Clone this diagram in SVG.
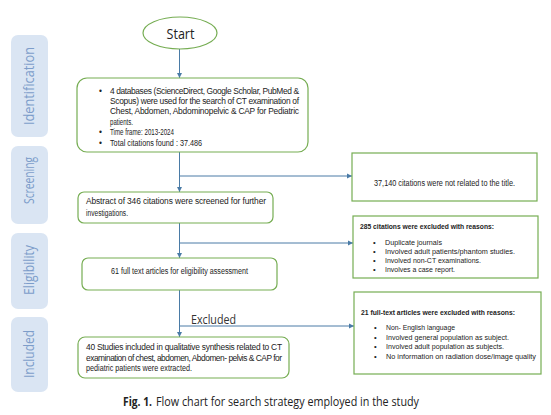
<svg xmlns="http://www.w3.org/2000/svg" width="551" height="415" viewBox="0 0 551 415">
<defs>
<marker id="ah" markerWidth="6" markerHeight="6" refX="5" refY="3" orient="auto" markerUnits="userSpaceOnUse">
<path d="M0,0.5 L5,3 L0,5.5 Z" fill="#4a7ba6"/>
</marker>
<style>
.side{fill:#dae5f3}
.sidet{font-family:"Open Sans","Noto Sans",sans-serif;font-size:14px;fill:#7d9dca}
.box{fill:#fff;stroke:#76ad53;stroke-width:1.2}
.t{font-family:"Liberation Sans","Noto Sans",sans-serif;font-size:8.4px;fill:#222}
.s{font-family:"Liberation Sans","Noto Sans",sans-serif;font-size:7.6px;fill:#222}
.b{font-weight:bold}
.conn line{stroke:#4a7ba6;stroke-width:1}
</style>
</defs>
<rect width="551" height="415" fill="#fff"/>

<g id="side-identification"><rect class="side" x="11" y="35" width="37" height="102" rx="7"/><text class="sidet" transform="translate(34,86) rotate(-90)" text-anchor="middle" textLength="78" lengthAdjust="spacingAndGlyphs">Identification</text></g>
<g id="side-screening"><rect class="side" x="11" y="146" width="37" height="78" rx="7"/><text class="sidet" transform="translate(34,180.5) rotate(-90)" text-anchor="middle" textLength="47" lengthAdjust="spacingAndGlyphs">Screening</text></g>
<g id="side-eligibility"><rect class="side" x="11" y="233" width="37" height="76" rx="7"/><text class="sidet" transform="translate(34,270) rotate(-90)" text-anchor="middle" textLength="50" lengthAdjust="spacingAndGlyphs">Eligibility</text></g>
<g id="side-included"><rect class="side" x="11" y="317" width="37" height="75" rx="7"/><text class="sidet" transform="translate(34,354) rotate(-90)" text-anchor="middle" textLength="48" lengthAdjust="spacingAndGlyphs">Included</text></g>

<g class="conn" id="connectors">
<line x1="179.5" y1="49" x2="179.5" y2="78" marker-end="url(#ah)"/>
<line x1="179.5" y1="152" x2="179.5" y2="192" marker-end="url(#ah)"/>
<line x1="179.5" y1="176" x2="352" y2="176" marker-end="url(#ah)"/>
<line x1="179.5" y1="223" x2="179.5" y2="258" marker-end="url(#ah)"/>
<line x1="179.5" y1="243" x2="353" y2="243" marker-end="url(#ah)"/>
<line x1="179.5" y1="290" x2="179.5" y2="337" marker-end="url(#ah)"/>
<line x1="179.5" y1="326" x2="354" y2="326" marker-end="url(#ah)"/>
</g>

<g id="start"><ellipse cx="180" cy="33" rx="37" ry="16" fill="#fff" stroke="#76ad53" stroke-width="1.2"/><text x="180.5" y="38.5" text-anchor="middle" font-family="Open Sans, Noto Sans, sans-serif" font-size="15" fill="#222" textLength="28" lengthAdjust="spacingAndGlyphs">Start</text></g>

<g id="identification">
<rect class="box" x="77" y="78" width="231" height="74" rx="10"/>
<text class="t" x="99" y="93.5">•</text><text class="t" x="110" y="93.5" textLength="189" lengthAdjust="spacing">4 databases (ScienceDirect, Google Scholar, PubMed &amp;</text>
<text class="t" x="110" y="104" textLength="189" lengthAdjust="spacing">Scopus) were used for the search of CT examination of</text>
<text class="t" x="110" y="114" textLength="189" lengthAdjust="spacing">Chest, Abdomen, Abdominopelvic &amp; CAP for Pediatric</text>
<text class="t" x="110" y="124.5" textLength="23" lengthAdjust="spacingAndGlyphs">patients.</text>
<text class="t" x="99" y="135">•</text><text class="t" x="110" y="135" textLength="64" lengthAdjust="spacingAndGlyphs">Time frame: 2013-2024</text>
<text class="t" x="99" y="145.5">•</text><text class="t" x="110" y="145.5" textLength="92" lengthAdjust="spacingAndGlyphs">Total citations found : 37.486</text>
</g>

<g id="excluded-title">
<rect class="box" x="352" y="153" width="185" height="48"/>
<text class="t" x="374" y="185.5" textLength="141" lengthAdjust="spacingAndGlyphs">37,140 citations were not related to the title.</text>
</g>

<g id="screening">
<rect class="box" x="78" y="192" width="195" height="31" rx="6"/>
<text class="t" x="86" y="204" textLength="180" lengthAdjust="spacing">Abstract of 346 citations were screened for further</text>
<text class="t" x="86" y="215.5" textLength="42" lengthAdjust="spacingAndGlyphs">investigations.</text>
</g>

<g id="excluded-285">
<rect class="box" x="353" y="216" width="185" height="62"/>
<text class="s b" x="360" y="228.5" textLength="134" lengthAdjust="spacingAndGlyphs">285 citations were excluded with reasons:</text>
<text class="s" x="373" y="244.5">•</text><text class="s" x="385" y="244.5" textLength="57" lengthAdjust="spacingAndGlyphs">Duplicate journals</text>
<text class="s" x="373" y="253.5">•</text><text class="s" x="385" y="253.5" textLength="130" lengthAdjust="spacingAndGlyphs">Involved adult patients/phantom studies.</text>
<text class="s" x="373" y="262.5">•</text><text class="s" x="385" y="262.5" textLength="96" lengthAdjust="spacingAndGlyphs">Involved non-CT examinations.</text>
<text class="s" x="373" y="271.5">•</text><text class="s" x="385" y="271.5" textLength="70" lengthAdjust="spacingAndGlyphs">Involves a case report.</text>
</g>

<g id="eligibility">
<rect class="box" x="82" y="258" width="195" height="32" rx="6"/>
<text class="t" x="111" y="274" textLength="137" lengthAdjust="spacingAndGlyphs">61 full text articles for eligibility assessment</text>
</g>

<text x="191" y="324" font-family="Open Sans, Noto Sans, sans-serif" font-size="13" fill="#333" textLength="45" lengthAdjust="spacingAndGlyphs">Excluded</text>

<g id="excluded-21">
<rect class="box" x="354" y="292" width="187" height="82"/>
<text class="s b" x="361" y="314.5" textLength="154" lengthAdjust="spacingAndGlyphs">21 full-text articles were excluded with reasons:</text>
<text class="s" x="374" y="329.5">•</text><text class="s" x="386" y="329.5" textLength="69" lengthAdjust="spacingAndGlyphs">Non- English language</text>
<text class="s" x="374" y="339.5">•</text><text class="s" x="386" y="339.5" textLength="123" lengthAdjust="spacingAndGlyphs">Involved general population as subject.</text>
<text class="s" x="374" y="348.5">•</text><text class="s" x="386" y="348.5" textLength="118" lengthAdjust="spacingAndGlyphs">Involved adult population as subjects.</text>
<text class="s" x="374" y="358.5">•</text><text class="s" x="386" y="358.5" textLength="150" lengthAdjust="spacingAndGlyphs">No information on radiation dose/image quality</text>
</g>

<g id="included">
<rect class="box" x="78" y="337" width="211" height="41" rx="7"/>
<text class="t" x="86" y="350" textLength="196" lengthAdjust="spacing">40 Studies included in qualitative synthesis related to CT</text>
<text class="t" x="86" y="360.5" textLength="196" lengthAdjust="spacing">examination of chest, abdomen, Abdomen- pelvis &amp; CAP for</text>
<text class="t" x="86" y="371" textLength="106" lengthAdjust="spacingAndGlyphs">pediatric patients were extracted.</text>
</g>

<text x="123" y="406" font-family="Open Sans, Noto Sans, sans-serif" font-size="12" font-weight="bold" fill="#222" textLength="29" lengthAdjust="spacingAndGlyphs">Fig. 1.</text>
<text x="156" y="406" font-family="Open Sans, Noto Sans, sans-serif" font-size="12" fill="#222" textLength="263" lengthAdjust="spacingAndGlyphs">Flow chart for search strategy employed in the study</text>
</svg>
